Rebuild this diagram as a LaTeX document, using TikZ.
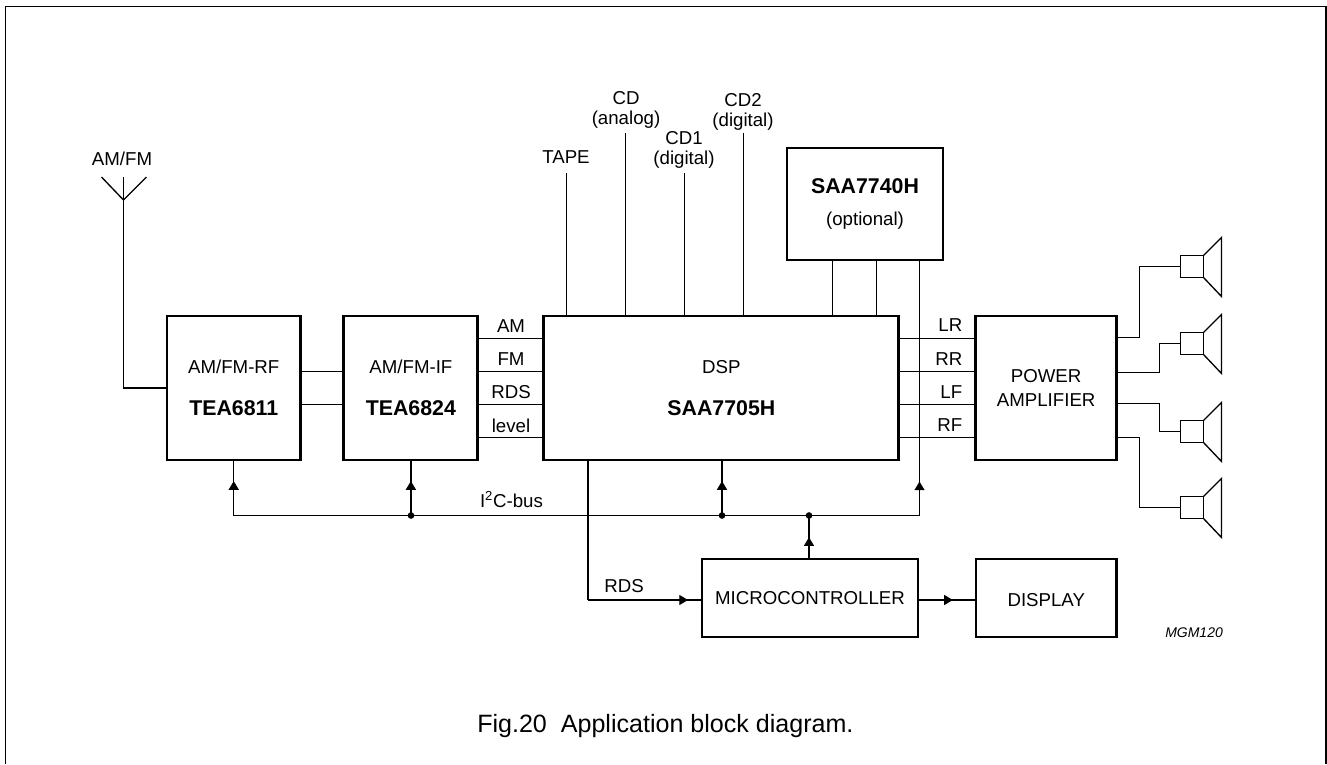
\documentclass[tikz,border=0pt]{standalone}
\usepackage{fontspec}
\setmainfont{Liberation Sans}
\usepackage{tikz}
\usetikzlibrary{arrows.meta, positioning, calc, decorations.markings}
\newcommand{\chip}[1]{{\fontsize{16}{15}\selectfont\bfseries #1}}
\tikzstyle{block} = [rectangle, draw, line width=2.1pt, outer sep=0pt, minimum height=108pt, align=center, font=\fontsize{14}{15}\selectfont]
\tikzstyle{wire} = [line width=1pt]
\tikzstyle{signal} = [inner sep=0pt, anchor=base, align=center, font=\fontsize{14}{15}\selectfont]
\tikzstyle{speaker} = [rectangle, draw, line width=1pt, outer sep=0pt, minimum width=17.25pt, minimum height=16.5pt]
\tikzstyle{dot} = [circle, fill, inner sep=0pt, minimum size=5pt]
\tikzstyle{arrow} = [wire, postaction={decorate}, decoration={markings, mark=at position #1 with {\arrow{Triangle[length=6.5pt, width=7.5pt]}}}]

\begin{document}
\begin{tikzpicture}[x=0.75pt, y=-0.75pt]

\useasboundingbox (0,0) rectangle (1327,764);
\draw[line width=1.3pt] (5.5,764) -- (5.5,6.5) -- (1326,6.5) -- (1326,764);

\node[block, minimum width=100pt] (rf) at (233.75,388) {AM/FM-RF\\[16.5pt]\chip{TEA6811}};
\node[block, minimum width=100.5pt, right=32.6pt of rf] (if) {AM/FM-IF\\[16.5pt]\chip{TEA6824}};
\node[block, minimum width=266.25pt, right=49.5pt of if] (dsp) {DSP\\[16.5pt]\chip{SAA7705H}};
\node[block, minimum width=105.4pt, right=57.75pt of dsp] (amp) {POWER\\[3pt]AMPLIFIER};
\node[block, minimum width=117pt, minimum height=84pt] (saa) at (865,204) {\chip{SAA7740H}\\[9pt](optional)};
\node[block, minimum width=162pt, minimum height=58.5pt] (micro) at (810,598) {MICROCONTROLLER};
\node[block, minimum width=105.4pt, minimum height=58.5pt, text height=13pt, text depth=0pt, right=43.5pt of micro] (disp) {DISPLAY};

\node[signal] (antlbl) at (122,165) {AM/FM};
\coordinate (ant) at (123.5,200);
\draw[wire] (ant) -- ++(-22,-23);
\draw[wire] (ant) -- ++(23,-23);
\draw[wire] (ant) -- ++(0,-23);
\draw[wire] (ant) |- (rf.west);

\draw[wire] ([yshift=12.4pt]rf.east) -- ([yshift=12.4pt]if.west);
\draw[wire] ([yshift=-12.4pt]rf.east) -- ([yshift=-12.4pt]if.west);

\foreach \name/\txt/\yy/\off in {am/AM/332/37.1, fm/FM/365/12.4, rds/RDS/398/-12.4, level/level/432/-37.1} {
  \node[signal] (\name) at (511,\yy) {\txt};
  \draw[wire] ([yshift=\off pt]if.east) -- ([yshift=\off pt]dsp.west);
}
\foreach \name/\txt/\yy/\off in {lr/LR/331/37.1, rr/RR/365/12.4, lf/LF/398/-12.4, rfout/RF/431/-37.1} {
  \node[signal, anchor=base east] (\name) at (962.5,\yy) {\txt};
  \draw[wire] ([yshift=\off pt]dsp.east) -- ([yshift=\off pt]amp.west);
}

% inputs on top of the dsp
\node[signal] (tape) at (566,163) {TAPE};
\node[signal] (cd) at (626,124) {CD\\(analog)};
\node[signal] (cda) at (684,164) {CD1\\(digital)};
\node[signal] (cdb) at (743,126) {CD2\\(digital)};
\coordinate (tapeend) at (566.5,173);
\coordinate (cdend) at (625.5,133);
\coordinate (cdaend) at (684.5,173);
\coordinate (cdbend) at (743.5,133);
\draw[wire] (tapeend) -- (tapeend |- dsp.north);
\draw[wire] (cdend) -- (cdend |- dsp.north);
\draw[wire] (cdaend) -- (cdaend |- dsp.north);
\draw[wire] (cdbend) -- (cdbend |- dsp.north);
\draw[wire] ($(saa.south west)+(45.5,0)$) -- ($(saa.south west)+(45.5,56)$);
\draw[wire] ($(saa.south west)+(89.5,0)$) -- ($(saa.south west)+(89.5,56)$);

% bus
\coordinate (bus) at (411,515.5);
\coordinate (busr) at (809,515.5);
\coordinate (busd) at (722,515.5);
\coordinate (busend) at ($(saa.south west)+(132.5,255.5)$);
\node[dot] (dota) at (bus) {};
\node[dot] (dotb) at (busd) {};
\node[dot] (dotc) at (busr) {};
\node[signal] (i2c) at (511.5,507) {I\textsuperscript{2}C-bus};
\draw[wire] (rf.south |- bus) -- (busend);
\draw[arrow=0.62] (rf.south |- bus) -- (rf.south);
\draw[arrow=0.62] (if.south |- bus) -- (if.south);
\draw[arrow=0.62] (busd) -- (busd |- dsp.south);
\draw[arrow=0.5] (micro.north -| busr) -- (busr);
\draw[arrow=0.133] (busend) -- (busend |- saa.south);

\node[signal] (rdslbl) at (624,592) {RDS};
\coordinate (rdsout) at (588,600);
\draw[wire] (rdsout |- dsp.south) -- (rdsout);
\draw[arrow=0.877] (rdsout) -- (rdsout -| micro.west);
\draw[arrow=0.6] (rdsout -| micro.east) -- (rdsout -| disp.west);

% speakers
\foreach \nn/\yy/\jog/\off in {1/266.5/22.8/37.9, 2/343.5/42.8/11.6, 3/431.5/42.8/-11.6, 4/507.5/22.8/-37.1} {
  \node[speaker] (sp\nn) at (1192,\yy) {};
  \draw[wire] (sp\nn.north east) -- ++(18,-18) -- ++(0,59) -- (sp\nn.south east);
  \draw[wire] ([yshift=\off pt]amp.east) -- ++(\jog,0) |- (sp\nn.west);
}

\node[inner sep=0pt, anchor=base west, font=\fontsize{10.5}{12}\selectfont\itshape] (code) at (1165,637) {MGM120};
\node[inner sep=0pt, anchor=base west, font=\fontsize{18.8}{20}\selectfont] (caption) at (477,732) {Fig.20\ \ Application block diagram.};

\end{tikzpicture}
\end{document}
